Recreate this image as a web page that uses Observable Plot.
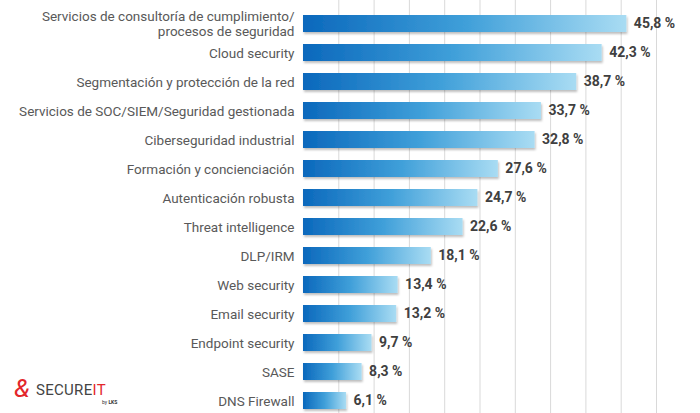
<!DOCTYPE html>
<html><head><meta charset="utf-8">
<script src="https://cdn.jsdelivr.net/npm/d3@7"></script>
<script src="https://cdn.jsdelivr.net/npm/@observablehq/plot@0.6"></script>
<style>
body{margin:0;background:#fff;font-family:Roboto,sans-serif}
#wrap{position:relative;width:700px;height:413px;overflow:hidden}
#logo{position:absolute;left:14px;top:377px;width:110px;height:30px;font-family:Roboto,sans-serif}
</style></head><body>
<div id="wrap"><div id="chart"></div>
<div id="logo"><span style="position:absolute;left:0;top:-4px;color:#e3262b;font-size:26px;font-style:italic">&amp;</span><span style="position:absolute;left:22px;top:4px;font-size:15px;letter-spacing:0.3px"><span style="color:#444">SECURE</span><span style="color:#e3262b">IT</span></span><span style="position:absolute;left:88px;top:22px;font-size:5px;color:#333">by <b>LKS</b></span></div>
</div>
<script>
const categories = ["Servicios de consultoría de cumplimiento/\nprocesos de seguridad","Cloud security","Segmentación y protección de la red","Servicios de SOC/SIEM/Seguridad gestionada","Ciberseguridad industrial","Formación y concienciación","Autenticación robusta","Threat intelligence","DLP/IRM","Web security","Email security","Endpoint security","SASE","DNS Firewall"];
const values = [45.8,42.3,38.7,33.7,32.8,27.6,24.7,22.6,18.1,13.4,13.2,9.7,8.3,6.1];
const labels = ["45,8 %","42,3 %","38,7 %","33,7 %","32,8 %","27,6 %","24,7 %","22,6 %","18,1 %","13,4 %","13,2 %","9,7 %","8,3 %","6,1 %"];
const data = categories.map((c,i)=>({c, v:values[i], l:labels[i]}));
const plot = Plot.plot({
  width:700, height:413, marginLeft:303, marginRight:44, marginTop:0, marginBottom:0,
  style:{fontFamily:"Roboto, sans-serif", fontSize:"13px"},
  x:{domain:[0,50], axis:null},
  y:{domain:categories, range:[2,422], padding:0.42, label:null},
  marks:[
    Plot.gridX(d3.range(5,51,5),{stroke:"#d9d9d9", strokeOpacity:1}),
    Plot.barX(data,{y:"c", x:"v", fill:"url(#grad)"}),
    Plot.text(data,{y:"c", x:"v", text:"l", dx:7, textAnchor:"start", fontWeight:"bold", fill:"#404040", fontSize:14}),
    Plot.axisY({tickSize:0, tickPadding:9, color:"#595959", fontSize:13.5, lineHeight:1.1})
  ]
});
const ns="http://www.w3.org/2000/svg";
const defs=document.createElementNS(ns,"defs");
defs.innerHTML='<linearGradient id="grad" x1="0" x2="1" y1="0" y2="0"><stop offset="0" stop-color="#0b68bc"/><stop offset="0.5" stop-color="#3f9fd9"/><stop offset="1" stop-color="#a9dcf3"/></linearGradient><filter id="sh" x="-5%" y="-20%" width="110%" height="160%"><feDropShadow dx="1" dy="2" stdDeviation="1" flood-color="#000" flood-opacity="0.25"/></filter>';
plot.prepend(defs);
plot.querySelectorAll('g[aria-label="bar"]').forEach(g=>g.setAttribute("filter","url(#sh)"));
document.getElementById("chart").append(plot);
</script></body></html>
